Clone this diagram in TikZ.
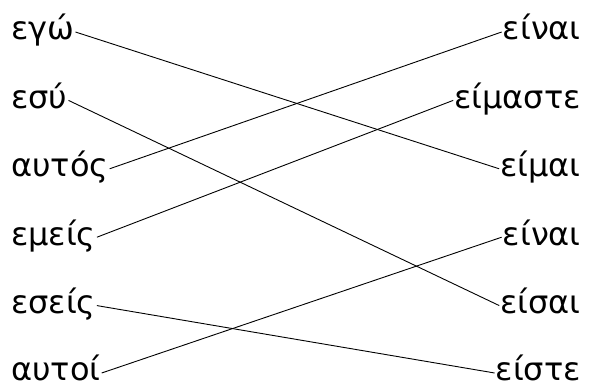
\documentclass[tikz,border=0pt]{standalone}
\usepackage{fontspec}
\setmainfont{DejaVu Sans}
\usetikzlibrary{calc}
\begin{document}
\begin{tikzpicture}[x=1pt,y=1pt,
  word/.style={inner sep=1pt,font=\fontsize{32}{36}\selectfont},
  link/.style={line width=0.9pt}]
\useasboundingbox (0,0) rectangle (592,390);
\node[word,anchor=base west] (l1) at (10,350) {εγώ};
\node[word,anchor=base west] (l2) at (10,281.6) {εσύ};
\node[word,anchor=base west] (l3) at (10,213.2) {αυτός};
\node[word,anchor=base west] (l4) at (10,144.8) {εμείς};
\node[word,anchor=base west] (l5) at (10,76.4) {εσείς};
\node[word,anchor=base west] (l6) at (10,9) {αυτοί};
\node[word,anchor=base east] (r1) at (582,350) {είναι};
\node[word,anchor=base east] (r2) at (582,281.6) {είμαστε};
\node[word,anchor=base east] (r3) at (582,213.2) {είμαι};
\node[word,anchor=base east] (r4) at (582,144.8) {είναι};
\node[word,anchor=base east] (r5) at (582,76.4) {είσαι};
\node[word,anchor=base east] (r6) at (582,9) {είστε};
\draw[link] ($(l1.base east)+(0,8)$) -- ($(r3.base west)+(0,8)$);
\draw[link] ($(l2.base east)+(0,8)$) -- ($(r5.base west)+(0,8)$);
\draw[link] ($(l3.base east)+(0,8)$) -- ($(r1.base west)+(0,8)$);
\draw[link] ($(l4.base east)+(0,8)$) -- ($(r2.base west)+(0,8)$);
\draw[link] ($(l5.base east)+(0,8)$) -- ($(r6.base west)+(0,8)$);
\draw[link] ($(l6.base east)+(0,8)$) -- ($(r4.base west)+(0,8)$);
\end{tikzpicture}
\end{document}
